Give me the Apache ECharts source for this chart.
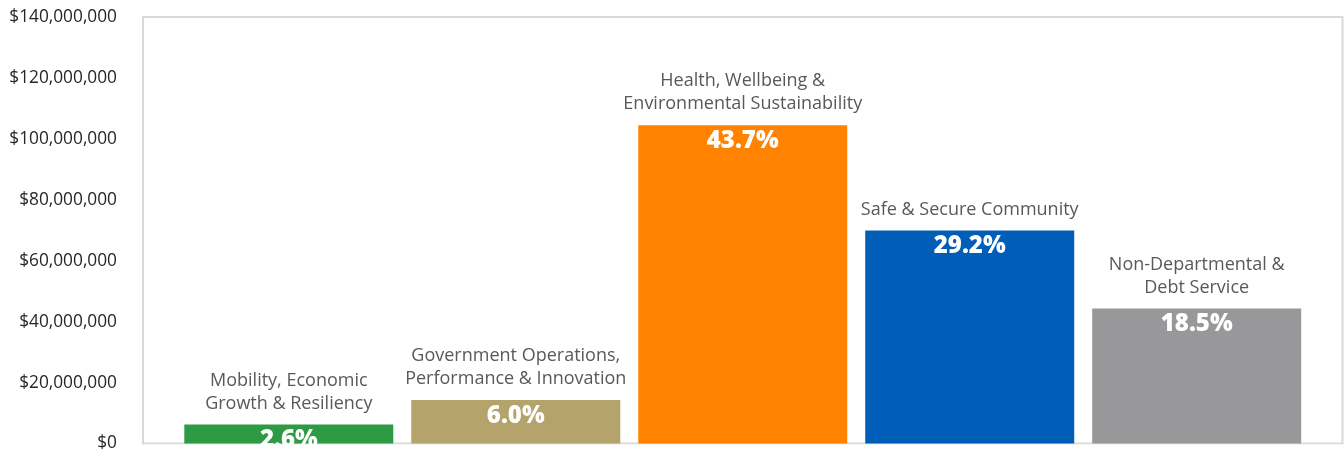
<!DOCTYPE html>
<html>
<head>
<meta charset="utf-8">
<script src="https://cdn.jsdelivr.net/npm/echarts@6/dist/echarts.min.js"></script>
<style>
  html, body { margin: 0; padding: 0; background: #ffffff; }
  #chart { width: 1344px; height: 449px; }
</style>
</head>
<body>
<div id="chart"></div>
<script>
// Budget by priority area (US dollars)
const categories = [
  'Mobility, Economic\nGrowth & Resiliency',
  'Government Operations,\nPerformance & Innovation',
  'Health, Wellbeing &\nEnvironmental Sustainability',
  'Safe & Secure Community',
  'Non-Departmental &\nDebt Service'
];
const budget = [6200000, 14300000, 104500000, 69900000, 44300000];
const palette = ['#2e9b44', '#b4a36a', '#ff8300', '#005eb8', '#98989a'];
const yAxisMax = 140000000;
const yAxisStep = 20000000;

const total = budget.reduce((a, b) => a + b, 0);
const FONT = '"Open Sans", "Noto Sans", sans-serif';

const chart = echarts.init(document.getElementById('chart'), null, { renderer: 'canvas' });

// One bar per priority area, side by side; the label carries the area name
// above the bar and its share of the total just inside the bar top.
const series = categories.map((name, i) => ({
  type: 'bar',
  name: name,
  data: [budget[i]],
  barWidth: 209,
  barGap: '8.6%',
  itemStyle: { color: palette[i] },
  label: {
    show: true,
    position: 'top',
    distance: 0,
    offset: [0, 41.5],
    formatter: () => {
      const pct = (budget[i] / total * 100).toFixed(1);
      return name.split('\n').map(l => '{n|' + l + '}').join('\n') + '\n{p|' + pct + '%}';
    },
    rich: {
      n: { fontFamily: FONT, fontSize: 18, color: '#595959', lineHeight: 23 },
      p: { fontFamily: FONT, fontSize: 24, fontWeight: 800, color: '#ffffff', lineHeight: 51 }
    }
  }
}));

chart.setOption({
  animation: false,
  grid: {
    left: 143, right: 1.5, top: 17, bottom: 5.5,
    outerBoundsMode: 'none',
    show: true, borderColor: '#d9d9d9', borderWidth: 2, backgroundColor: 'transparent'
  },
  xAxis: {
    type: 'category',
    data: [''],
    axisLine: { show: false },
    axisTick: { show: false },
    axisLabel: { show: false }
  },
  yAxis: {
    type: 'value',
    min: 0,
    max: yAxisMax,
    interval: yAxisStep,
    axisLine: { show: false },
    axisTick: { show: false },
    splitLine: { show: false },
    axisLabel: {
      margin: 26,
      fontFamily: FONT,
      fontSize: 17.3,
      color: '#262626',
      formatter: v => '$' + v.toLocaleString('en-US')
    }
  },
  series: series,
  // keeps the clipped share label of the short first bar inside the plot
  graphic: [{
    type: 'rect',
    z: 1000,
    shape: { x: 144, y: 444.5, width: 1200, height: 10 },
    style: { fill: '#ffffff' }
  }]
});
</script>
</body>
</html>
